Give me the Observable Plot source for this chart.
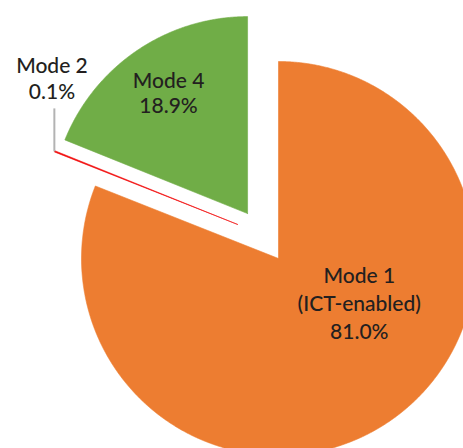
<!DOCTYPE html>
<html>
<head>
<meta charset="utf-8">
<script src="https://cdn.jsdelivr.net/npm/d3@7"></script>
<script src="https://cdn.jsdelivr.net/npm/@observablehq/plot@0.6"></script>
<style>
  html, body { margin: 0; padding: 0; background: #fff; }
  #chart { width: 463px; height: 448px; overflow: hidden; }
</style>
</head>
<body>
<div id="chart"></div>
<script>
// ---- Data ----
const categories = ["Mode 1", "Mode 2", "Mode 4"];
const labelTexts = ["Mode 1\n(ICT-enabled)\n81.0%", "Mode 2\n0.1%", "Mode 4\n18.9%"];
const shares = [81.0, 0.1, 18.9];

// ---- Layout (radius units; pie radius = 1, y up) ----
const W = 463, H = 448, R = 197, CX = 278, CY = 258;
const explode = { "Mode 1": [0, 0], "Mode 2": [-0.208, 0.173], "Mode 4": [-0.157, 0.228] };
const labelPos = { "Mode 1": [0.41, -0.222], "Mode 2": [-1.15, 0.918], "Mode 4": [-0.558, 0.843] };
const FS = 21;
const lineHeights = { "Mode 1": 28 / FS, "Mode 2": 26 / FS, "Mode 4": 25.4 / FS };

const arcs = d3.pie().sort(null).value(d => d)(shares);

const pts = [];
arcs.forEach((a, i) => {
  const cat = categories[i];
  const [ox, oy] = explode[cat];
  pts.push({ cat, x: ox, y: oy });
  const n = Math.max(2, Math.ceil((a.endAngle - a.startAngle) / 0.005));
  for (let k = 0; k <= n; k++) {
    const t = a.startAngle + (a.endAngle - a.startAngle) * k / n;
    pts.push({ cat, x: ox + Math.sin(t), y: oy + Math.cos(t) });
  }
  pts.push({ cat, x: ox, y: oy });
});

// leader line for Mode 2: from outer start of its wedge upward
const m2 = arcs[1];
const [m2x, m2y] = explode["Mode 2"];
const leader = [{
  x: m2x + Math.sin(m2.startAngle), y1: m2y + Math.cos(m2.startAngle),
  y2: m2y + Math.cos(m2.startAngle) + 43 / R
}];

const labels = categories.map((c, i) => ({ cat: c, text: labelTexts[i], x: labelPos[c][0], y: labelPos[c][1] }));

const textMarks = categories.map(c => Plot.text(labels.filter(d => d.cat === c), {
  x: "x", y: "y", text: "text", fontFamily: "Lato, 'Noto Sans', sans-serif",
  fontSize: FS, fontWeight: 500, fill: "#231f20", lineHeight: lineHeights[c], textAnchor: "middle"
}));

const plot = Plot.plot({
  width: W, height: H,
  margin: 0,
  x: { domain: [-CX / R, (W - CX) / R], range: [0, W], axis: null },
  y: { domain: [-(H - CY) / R, CY / R], range: [H, 0], axis: null },
  color: { domain: categories, range: ["#ED7D31", "#F20D0D", "#70AD47"] },
  style: { background: "#fff" },
  marks: [
    Plot.line(pts, { x: "x", y: "y", z: "cat", fill: "cat", stroke: "cat", strokeWidth: 0.6, curve: "linear" }),
    Plot.ruleX(leader, { x: "x", y1: "y1", y2: "y2", stroke: "#b3b3b3", strokeWidth: 2 }),
    ...textMarks
  ]
});
document.getElementById("chart").appendChild(plot);
</script>
</body>
</html>
